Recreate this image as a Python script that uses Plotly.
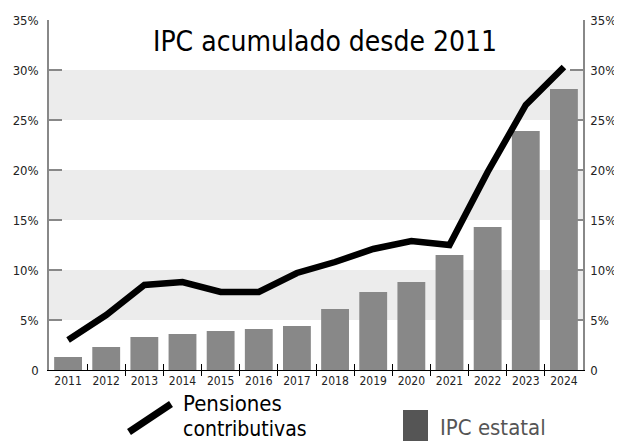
import plotly.graph_objects as go

years = [2011, 2012, 2013, 2014, 2015, 2016, 2017, 2018, 2019, 2020, 2021, 2022, 2023, 2024]
ipc_estatal = [1.3, 2.3, 3.3, 3.6, 3.9, 4.1, 4.4, 6.1, 7.8, 8.8, 11.5, 14.3, 23.9, 28.1]
pensiones = [3.0, 5.5, 8.5, 8.8, 7.8, 7.8, 9.7, 10.8, 12.1, 12.9, 12.5, 19.8, 26.5, 30.3]
y_tickvals = [0, 5, 10, 15, 20, 25, 30, 35]
y_ticktext = ["0", "5%", "10%", "15%", "20%", "25%", "30%", "35%"]
bands = [(5, 10), (15, 20), (25, 30)]
title_text = "IPC acumulado desde 2011"
legend_line_1 = "Pensiones"
legend_line_2 = "contributivas"
legend_bar = "IPC estatal"

FONT = "DejaVu Sans Condensed, Liberation Sans Narrow, sans-serif"
W, H = 622, 441
OFF = 8  # page body margin offset
# plot area in page pixels: x 49..583, y 20..370
L = 49 - OFF
T = 20 - OFF
R = W - (583 - OFF)
B = H - (370 - OFF)

def xp(px):
    return (px - OFF - L) / (W - L - R)

def yp(py):
    return (H - B - (py - OFF)) / (H - T - B)

fig = go.Figure()
fig.add_trace(go.Bar(x=years, y=ipc_estatal, width=0.73, marker_color="#888888",
                     marker_line_width=0, showlegend=False))
fig.add_trace(go.Scatter(x=years, y=pensiones, mode="lines",
                         line=dict(color="black", width=6.5), showlegend=False))

shapes = []
for lo, hi in bands:
    shapes.append(dict(type="rect", xref="paper", yref="y", x0=0, x1=1, y0=lo, y1=hi,
                       fillcolor="#ececec", line_width=0, layer="below"))
# custom legend glyphs
shapes.append(dict(type="line", xref="paper", yref="paper", x0=xp(129), y0=yp(432),
                   x1=xp(171), y1=yp(404), line=dict(color="black", width=7)))
shapes.append(dict(type="rect", xref="paper", yref="paper", x0=xp(403), x1=xp(428),
                   y0=yp(410), y1=yp(445), fillcolor="#555555", line_width=0))

boundaries = [y + 0.5 for y in years[:-1]]
xr = [years[0] - 0.5, years[-1] + 0.5]
axis_font = dict(family=FONT, size=13, color="#222")
yaxis_common = dict(range=[0, 35], tickvals=y_tickvals, ticktext=y_ticktext,
                    ticks="inside", ticklen=13, tickcolor="#888888", tickwidth=1.5,
                    showline=True, linecolor="#888888", linewidth=1.5, showgrid=False,
                    zeroline=False, tickfont=axis_font,
                    automargin=False, fixedrange=True)

fig.update_layout(
    width=W, height=H, margin=dict(l=L, r=R, t=T, b=B),
    plot_bgcolor="white", paper_bgcolor="white",
    shapes=shapes,
    bargap=0.27,
    xaxis=dict(range=xr, tickvals=years, ticktext=[str(y) for y in years], ticks="",
               showline=True, linecolor="black", linewidth=1, showgrid=False, zeroline=False,
               automargin=False, tickfont=dict(family=FONT, size=12, color="#222")),
    xaxis2=dict(overlaying="x", anchor="y", range=xr, tickvals=boundaries[1:], ticks="outside",
                ticklen=5, tickcolor="black", showticklabels=False, showline=False,
                showgrid=False, zeroline=False, automargin=False),
    xaxis3=dict(overlaying="x", anchor="y", range=xr, tickvals=boundaries, ticks="inside",
                ticklen=6, tickcolor="black", showticklabels=False, showline=False,
                showgrid=False, zeroline=False, automargin=False),
    yaxis=dict(ticklabelstandoff=6, **yaxis_common),
    yaxis2=dict(overlaying="y", side="right", anchor="x", ticklabelstandoff=3, **yaxis_common),
    annotations=[
        dict(text=title_text, xref="paper", yref="paper", x=xp(325), y=yp(42),
             showarrow=False, font=dict(family=FONT, size=28, color="black"),
             xanchor="center", yanchor="middle"),
        dict(text=legend_line_1, xref="paper", yref="paper", x=xp(181), y=yp(403),
             showarrow=False, align="left", xanchor="left", yanchor="middle",
             font=dict(family=FONT, size=22, color="black")),
        dict(text=legend_line_2, xref="paper", yref="paper", x=xp(181), y=yp(429),
             showarrow=False, align="left", xanchor="left", yanchor="middle",
             font=dict(family=FONT, size=21, color="black")),
        dict(text=legend_bar, xref="paper", yref="paper", x=xp(438), y=yp(427),
             showarrow=False, align="left", xanchor="left", yanchor="middle",
             font=dict(family=FONT, size=22, color="#555555")),
    ],
)
# invisible helper traces so the overlay tick axes are drawn
fig.add_trace(go.Scatter(x=[years[0]], y=[0], xaxis="x2", yaxis="y", mode="markers",
                         marker=dict(opacity=0), showlegend=False, hoverinfo="skip"))
fig.add_trace(go.Scatter(x=[years[0]], y=[0], xaxis="x3", yaxis="y2", mode="markers",
                         marker=dict(opacity=0), showlegend=False, hoverinfo="skip"))

fig.write_html("out.html")
